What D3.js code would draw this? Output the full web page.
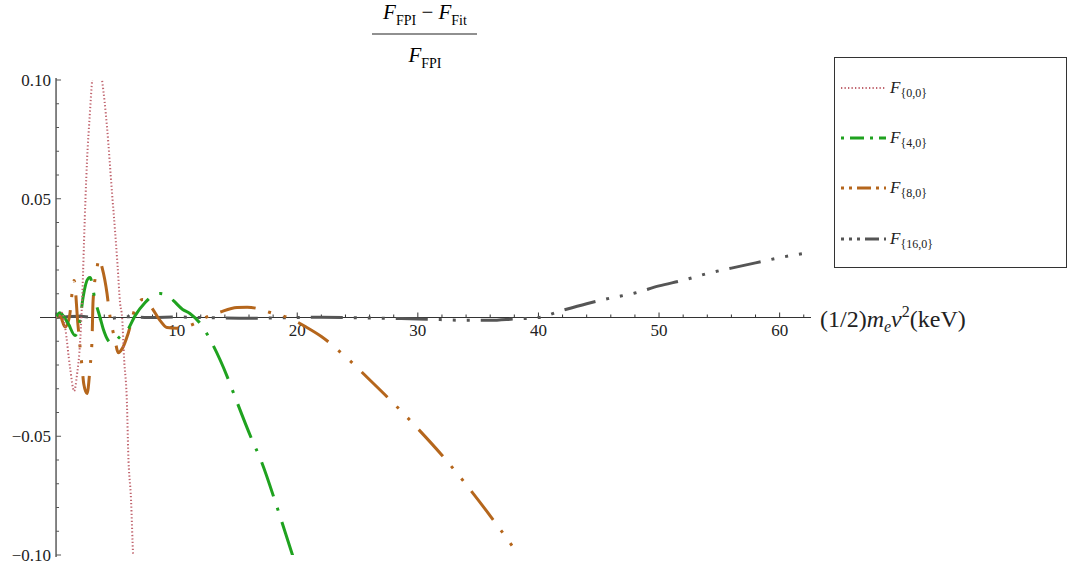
<!DOCTYPE html>
<html>
<head>
<meta charset="utf-8">
<script src="https://cdn.jsdelivr.net/npm/d3@7"></script>
<style>
  body { margin: 0; background: #fff; }
</style>
</head>
<body>
<div id="chart"></div>
<script>
// data
var xTicks = [10, 20, 30, 40, 50, 60];
var yTicks = [-0.10, -0.05, 0.05, 0.10];
var yTickLabels = ["\u22120.10", "\u22120.05", "0.05", "0.10"];

var f00x = [0, 0.3, 0.5, 0.75, 1.16, 1.5, 1.74, 2.0, 2.24, 2.32, 2.57, 2.82, 2.99, 3.4, 3.82, 4.23, 4.65, 4.9, 5.1, 5.31, 5.48, 5.64, 5.89, 5.98, 6.22, 6.39, 6.6];
var f00y = [0, 0.001, 0.002, -0.004, -0.021, -0.031, -0.024, -0.010, 0.0185, 0.032, 0.066, 0.087, 0.0998, 0.112, 0.0998, 0.080, 0.052, 0.036, 0.022, 0.006, 0, -0.017, -0.038, -0.056, -0.077, -0.100, -0.115];

var f40x = [0, 0.3, 1.0, 1.58, 1.99, 2.24, 2.66, 2.82, 3.24, 3.65, 3.9, 4.65, 5.3, 5.9, 6.56, 7.39, 8.05, 8.63, 9.2, 9.71, 10.5, 11.1, 11.95, 12.95, 14.2, 14.7, 16.35, 16.9, 18.4, 19.67, 20];
var f40y = [0, 0.002, -0.0025, -0.0076, -0.001, 0.0084, 0.0164, 0.0168, 0.0072, 0, -0.0046, -0.011, -0.008, -0.0055, 0.0008, 0.0063, 0.0093, 0.0101, 0.0093, 0.0072, 0.0034, 0.0017, -0.0025, -0.011, -0.025, -0.0316, -0.0527, -0.059, -0.081, -0.101, -0.106];

var f80x = [0, 0.3, 0.75, 1.1, 1.5, 1.8, 2.16, 2.3, 2.57, 2.82, 2.99, 3.07, 3.4, 3.57, 3.82, 4.23, 4.4, 4.9, 5.15, 5.5, 5.98, 6.56, 7.2, 7.8, 8.63, 9.2, 10.0, 10.7, 11.5, 12.4, 13.6, 15.0, 15.85, 16.7, 17.76, 19.4, 20.8, 22, 24, 26, 28, 30, 32, 34, 36, 38, 39];
var f80y = [0, 0.001, -0.004, 0.0, 0.0156, -0.002, -0.021, -0.028, -0.032, -0.021, -0.0084, 0.007, 0.021, 0.0248, 0.021, 0.010, 0.003, -0.0097, -0.0148, -0.013, -0.0067, 0.0038, 0.0076, 0.005, -0.0013, -0.0042, -0.0045, -0.004, -0.0025, 0.0, 0.0023, 0.0042, 0.0043, 0.0038, 0.0021, -0.0004, -0.0042, -0.008, -0.0165, -0.0262, -0.0362, -0.0468, -0.058, -0.0703, -0.0835, -0.0975, -0.105];

var f16x = [0, 2, 4, 6, 8, 10, 12, 14, 16, 18, 20, 22, 24, 26, 28, 30, 32, 34, 36, 38, 40, 42, 44, 46, 48, 50, 52, 54, 56, 58, 60, 62.6];
var f16y = [0, 0.0005, -0.0005, 0.0003, 0, 0.0002, 0, -0.0002, -0.0003, -0.0002, 0, 0.0001, 0, -0.0002, -0.0004, -0.0006, -0.0009, -0.0012, -0.0012, -0.0006, 0.0, 0.003, 0.0058, 0.0082, 0.0103, 0.0133, 0.0157, 0.0185, 0.0208, 0.023, 0.0252, 0.0274];

var seriesNames = ["{0,0}", "{4,0}", "{8,0}", "{16,0}"];
var seriesX = [f00x, f40x, f80x, f16x];
var seriesY = [f00y, f40y, f80y, f16y];
var colors = ["#c0646e", "#1fa21f", "#b5661c", "#555555"];
var dashes = ["1.3,2.2", "36,12,3,12", "36,13,3,13,3,13", "32,11,3,11,3,11,3,11"];
var legendDashes = ["1.3,2.2", "3,6,14,6", "3,5,3,5,14,5", "3,5,3,5,3,5,14,5"];
var widths = [2, 3, 3, 3];

var serif = "'Liberation Serif', 'DejaVu Serif', serif";
var width = 1068, height = 564;

var svg = d3.select("#chart").append("svg")
  .attr("width", width)
  .attr("height", height);

var x = d3.scaleLinear().domain([-1.33, 62.6]).range([40, 811]);
var y = d3.scaleLinear().domain([-0.1, 0.1]).range([555, 80]);

// clip to plot range
svg.append("clipPath").attr("id", "clip")
  .append("rect")
  .attr("x", x(0)).attr("y", y(0.1))
  .attr("width", x(62.6) - x(0)).attr("height", y(-0.1) - y(0.1));

// x axis
var xAxis = svg.append("g").attr("transform", "translate(0," + y(0) + ")");
xAxis.append("line")
  .attr("x1", x(-1.33)).attr("x2", x(62.6))
  .attr("stroke", "#333").attr("stroke-width", 1.2);
var xMinor = d3.range(0, 63, 2);
xAxis.selectAll(".xminor").data(xMinor).enter().append("line")
  .attr("x1", d => x(d)).attr("x2", d => x(d))
  .attr("y1", 0).attr("y2", d => d % 10 === 0 ? -5 : -3)
  .attr("stroke", "#333").attr("stroke-width", 1);
xAxis.selectAll(".xlab").data(xTicks).enter().append("text")
  .attr("x", d => x(d)).attr("y", 18)
  .attr("text-anchor", "middle")
  .style("font-size", "17px")
  .attr("fill", "#222")
  .text(d => d);

// y axis
var yAxis = svg.append("g").attr("transform", "translate(" + x(0) + ",0)");
yAxis.append("line")
  .attr("y1", y(0.1) - 2).attr("y2", y(-0.1) + 2)
  .attr("stroke", "#333").attr("stroke-width", 1.2);
var yMinor = d3.range(-10, 11, 1).map(d => d / 100);
yAxis.selectAll(".yminor").data(yMinor).enter().append("line")
  .attr("y1", d => y(d)).attr("y2", d => y(d))
  .attr("x1", 0).attr("x2", (d, i) => (i % 5 === 0) ? 5 : 3)
  .attr("stroke", "#555").attr("stroke-width", 1);
yAxis.selectAll(".ylab").data(yTicks).enter().append("text")
  .attr("x", -5).attr("y", d => y(d) + 6)
  .attr("text-anchor", "end")
  .style("font-size", "17px")
  .attr("fill", "#222")
  .text((d, i) => yTickLabels[i]);

// curves
var line = d3.line()
  .x(d => x(d[0]))
  .y(d => y(d[1]))
  .curve(d3.curveMonotoneX);

var plot = svg.append("g").attr("clip-path", "url(#clip)");
for (var k = seriesX.length - 1; k >= 0; k--) {
  var pts = seriesX[k].map((v, i) => [v, seriesY[k][i]]);
  plot.append("path")
    .datum(pts)
    .attr("d", line)
    .attr("fill", "none")
    .attr("stroke", colors[k])
    .attr("stroke-width", widths[k])
    .attr("stroke-dasharray", dashes[k]);
}

// title fraction
var title = svg.append("g");
var num = title.append("text")
  .attr("x", 425).attr("y", 19)
  .attr("text-anchor", "middle")
  .style("font-size", "21px");
num.append("tspan").style("font-style", "italic").text("F");
num.append("tspan").attr("dy", 6).style("font-size", "14px").text("FPI");
num.append("tspan").attr("dy", -6).text(" \u2212 ");
num.append("tspan").style("font-style", "italic").text("F");
num.append("tspan").attr("dy", 6).style("font-size", "14px").text("Fit");
title.append("line")
  .attr("x1", 372).attr("x2", 477).attr("y1", 34).attr("y2", 34)
  .attr("stroke", "#222").attr("stroke-width", 1.2);
var den = title.append("text")
  .attr("x", 425).attr("y", 62)
  .attr("text-anchor", "middle")
  .style("font-size", "21px");
den.append("tspan").style("font-style", "italic").text("F");
den.append("tspan").attr("dy", 6).style("font-size", "14px").text("FPI");

// x axis label
var xl = svg.append("text")
  .attr("x", 820).attr("y", y(0) + 9)
  .style("font-size", "24px")
  .attr("fill", "#222");
xl.append("tspan").text("(1/2)");
xl.append("tspan").style("font-style", "italic").text("m");
xl.append("tspan").attr("dy", 5).style("font-size", "16px").style("font-style", "italic").text("e");
xl.append("tspan").attr("dy", -5).style("font-style", "italic").text("v");
xl.append("tspan").attr("dy", -10).style("font-size", "16px").text("2");
xl.append("tspan").attr("dy", 10).text("(keV)");

// legend
var legend = svg.append("g");
legend.append("rect")
  .attr("x", 834.5).attr("y", 57.5)
  .attr("width", 232).attr("height", 210)
  .attr("fill", "#fff").attr("stroke", "#333").attr("stroke-width", 1);
var legendY = [88, 138, 188, 239];
seriesNames.forEach(function(name, i) {
  legend.append("line")
    .attr("x1", 841).attr("x2", 886)
    .attr("y1", legendY[i]).attr("y2", legendY[i])
    .attr("stroke", colors[i])
    .attr("stroke-width", widths[i])
    .attr("stroke-dasharray", legendDashes[i]);
  var t = legend.append("text")
    .attr("x", 890).attr("y", legendY[i] + 5)
    .style("font-size", "17px")
    .attr("fill", "#222");
  t.append("tspan").style("font-style", "italic").text("F");
  t.append("tspan").attr("dy", 4).style("font-size", "12px").text(name);
});

// serif everywhere, like the original
svg.selectAll("text").style("font-family", serif);
</script>
</body>
</html>
